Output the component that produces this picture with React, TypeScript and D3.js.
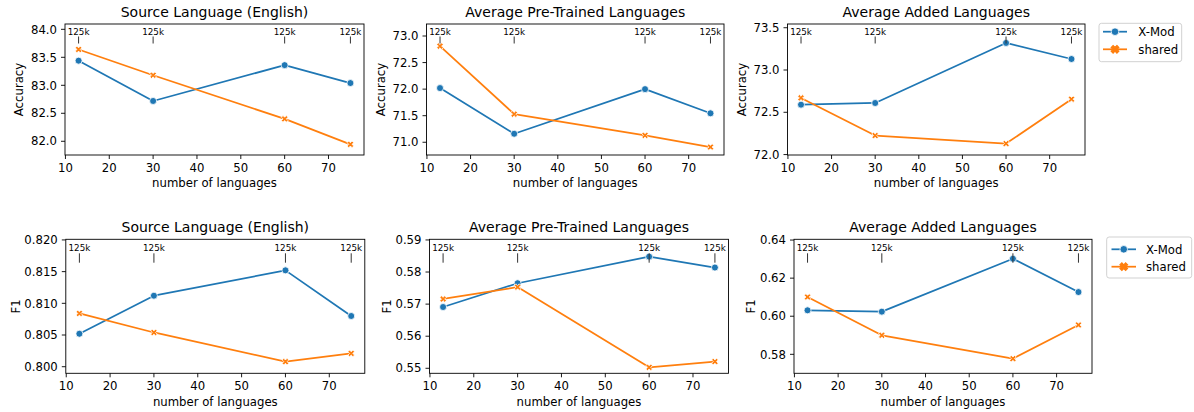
import React from 'react';
import * as d3 from 'd3';

// ---------- data ----------
const nLanguages = [13, 30, 60, 75];
const vocabLabels = ['125k', '125k', '125k', '125k'];
const seriesNames = ['X-Mod', 'shared'];
const xTicks = [10, 20, 30, 40, 50, 60, 70];

const accEnXmod = [83.44, 82.72, 83.36, 83.04];
const accEnShared = [83.64, 83.18, 82.4, 81.945];
const accPreXmod = [72.02, 71.16, 72.0, 71.545];
const accPreShared = [72.81, 71.53, 71.13, 70.91];
const accAddXmod = [72.59, 72.61, 73.32, 73.13];
const accAddShared = [72.67, 72.225, 72.13, 72.655];

const f1EnXmod = [0.8052, 0.8112, 0.8152, 0.808];
const f1EnShared = [0.8084, 0.8054, 0.8008, 0.8021];
const f1PreXmod = [0.5691, 0.5765, 0.5848, 0.5814];
const f1PreShared = [0.5716, 0.5753, 0.5503, 0.5521];
const f1AddXmod = [0.6031, 0.6024, 0.6302, 0.6127];
const f1AddShared = [0.6101, 0.59, 0.5777, 0.5954];

const yTicksAccEn = [82.0, 82.5, 83.0, 83.5, 84.0];
const yTicksAccPre = [71.0, 71.5, 72.0, 72.5, 73.0];
const yTicksAccAdd = [72.0, 72.5, 73.0, 73.5];
const yTicksF1En = [0.8, 0.805, 0.81, 0.815, 0.82];
const yTicksF1Pre = [0.55, 0.56, 0.57, 0.58, 0.59];
const yTicksF1Add = [0.58, 0.6, 0.62, 0.64];

const titles = ['Source Language (English)', 'Average Pre-Trained Languages', 'Average Added Languages'];

// ---------- style ----------
const BLUE = '#1f77b4';
const ORANGE = '#ff7f0e';
const FONT = '"DejaVu Sans", sans-serif';
const FS = 11.7;
const TITLE_FS = 14;
const ANN_FS = 8.75;

type Box = { l: number; r: number; t: number; b: number };
type Panel = {
  title: string;
  ylabel: string;
  xmod: number[];
  shared: number[];
  yTicks: number[];
  dec: number;
  yDomain: [number, number];
  box: Box;
  ann: { text: number; l0: number; l1: number };
};

const topAnn = { text: 8.2, l0: 12.5, l1: 19.5 };
const botAnn = { text: 8.4, l0: 14, l1: 23.4 };

const panels: Panel[] = [
  { title: titles[0], ylabel: 'Accuracy', xmod: accEnXmod, shared: accEnShared, yTicks: yTicksAccEn, dec: 1, yDomain: [81.755, 84.095], box: { l: 65, r: 364, t: 24, b: 155 }, ann: topAnn },
  { title: titles[1], ylabel: 'Accuracy', xmod: accPreXmod, shared: accPreShared, yTicks: yTicksAccPre, dec: 1, yDomain: [70.76, 73.226], box: { l: 426.5, r: 724, t: 24, b: 155 }, ann: topAnn },
  { title: titles[2], ylabel: 'Accuracy', xmod: accAddXmod, shared: accAddShared, yTicks: yTicksAccAdd, dec: 1, yDomain: [71.995, 73.544], box: { l: 787.5, r: 1085, t: 24, b: 155 }, ann: topAnn },
  { title: titles[0], ylabel: 'F1', xmod: f1EnXmod, shared: f1EnShared, yTicks: yTicksF1En, dec: 3, yDomain: [0.79896, 0.8201], box: { l: 65.8, r: 364.8, t: 239.3, b: 373.3 }, ann: botAnn },
  { title: titles[1], ylabel: 'F1', xmod: f1PreXmod, shared: f1PreShared, yTicks: yTicksF1Pre, dec: 2, yDomain: [0.54844, 0.5902], box: { l: 429.5, r: 728.5, t: 239.3, b: 373.3 }, ann: botAnn },
  { title: titles[2], ylabel: 'F1', xmod: f1AddXmod, shared: f1AddShared, yTicks: yTicksF1Add, dec: 2, yDomain: [0.57003, 0.6404], box: { l: 794, r: 1092, t: 239.3, b: 373.3 }, ann: botAnn },
];

const legends = [
  { x: 1099, y: 23.3, w: 82.7, h: 38.4, rows: [31.7, 49.3], lx0: 1103, lx1: 1127, tx: 1138.3 },
  { x: 1106.7, y: 237, w: 85, h: 41, rows: [249.3, 266.7], lx0: 1111.5, lx1: 1136, tx: 1146 },
];

function labelWidth(s: string, fs: number) {
  let w = 0;
  for (const c of s) w += c === '.' ? 0.318 : 0.636;
  return w * fs;
}

function xMarkerPath(cx: number, cy: number, size: number) {
  const pts: [number, number][] = [
    [-1, -3], [1, -3], [1, -1], [3, -1], [3, 1], [1, 1], [1, 3], [-1, 3], [-1, 1], [-3, 1], [-3, -1], [-1, -1],
  ];
  const s = size / 6;
  const c = Math.SQRT1_2;
  const rot = pts.map(([x, y]) => [(x * c - y * c) * s + cx, (x * c + y * c) * s + cy]);
  return 'M' + rot.map((p) => p[0].toFixed(2) + ',' + p[1].toFixed(2)).join('L') + 'Z';
}

function PanelView({ p }: { p: Panel }) {
  const { box } = p;
  const x = d3.scaleLinear().domain([9.9, 78.1]).range([box.l, box.r]);
  const y = d3.scaleLinear().domain(p.yDomain).range([box.b, box.t]);
  const line = d3
    .line<number>()
    .x((_, i) => x(nLanguages[i]))
    .y((d) => y(d));
  const fmt = d3.format('.' + p.dec + 'f');
  const maxW = Math.max(...p.yTicks.map((t) => labelWidth(fmt(t), FS)));
  const ylabX = box.l - 8 - maxW - 4.67 - (p.ylabel === 'F1' ? 0 : 2.8);
  const cx = (box.l + box.r) / 2;
  return (
    <g>
      <text x={cx} y={box.t - 7.5} fontSize={TITLE_FS} textAnchor="middle" fontFamily={FONT} fill="#000">
        {p.title}
      </text>
      {/* lines */}
      <path d={line(p.xmod) || ''} fill="none" stroke={BLUE} strokeWidth={1.75} strokeLinejoin="round" strokeLinecap="round" />
      <path d={line(p.shared) || ''} fill="none" stroke={ORANGE} strokeWidth={1.75} strokeLinejoin="round" strokeLinecap="round" />
      {p.xmod.map((v, i) => (
        <circle key={'b' + i} cx={x(nLanguages[i])} cy={y(v)} r={3.5} fill={BLUE} stroke="#fff" strokeWidth={0.8} />
      ))}
      {p.shared.map((v, i) => (
        <path key={'o' + i} d={xMarkerPath(x(nLanguages[i]), y(v), 7)} fill={ORANGE} stroke="#fff" strokeWidth={0.8} />
      ))}
      {/* annotations */}
      {nLanguages.map((n, i) => (
        <g key={'a' + i}>
          <text x={x(n)} y={box.t + p.ann.text + 3.2} fontSize={ANN_FS} textAnchor="middle" fontFamily={FONT} fill="#000">
            {vocabLabels[i]}
          </text>
          <line x1={x(n)} x2={x(n)} y1={box.t + p.ann.l0} y2={box.t + p.ann.l1} stroke="#333" strokeWidth={1} />
        </g>
      ))}
      {/* spines */}
      <rect x={box.l} y={box.t} width={box.r - box.l} height={box.b - box.t} fill="none" stroke="#000" strokeWidth={0.9} />
      {/* x ticks */}
      {xTicks.map((t) => (
        <g key={'x' + t}>
          <line x1={x(t)} x2={x(t)} y1={box.b} y2={box.b + 4} stroke="#000" strokeWidth={0.9} />
          <text x={x(t)} y={box.b + 8 + 8.6} fontSize={FS} textAnchor="middle" fontFamily={FONT} fill="#000">
            {t}
          </text>
        </g>
      ))}
      {/* y ticks */}
      {p.yTicks.map((t) => (
        <g key={'y' + t}>
          <line x1={box.l - 4} x2={box.l} y1={y(t)} y2={y(t)} stroke="#000" strokeWidth={0.9} />
          <text x={box.l - 8} y={y(t) + 4.2} fontSize={FS} textAnchor="end" fontFamily={FONT} fill="#000">
            {fmt(t)}
          </text>
        </g>
      ))}
      <text x={cx} y={box.b + 32.4} fontSize={FS} textAnchor="middle" fontFamily={FONT} fill="#000">
        number of languages
      </text>
      <text
        transform={`translate(${ylabX},${(box.t + box.b) / 2}) rotate(-90)`}
        fontSize={FS}
        textAnchor="middle"
        fontFamily={FONT}
        fill="#000"
      >
        {p.ylabel}
      </text>
    </g>
  );
}

function Legend({ L }: { L: (typeof legends)[number] }) {
  const colors = [BLUE, ORANGE];
  const mx = (L.lx0 + L.lx1) / 2;
  return (
    <g>
      <rect x={L.x} y={L.y} width={L.w} height={L.h} rx={2.5} fill="#fff" fillOpacity={0.8} stroke="#cccccc" strokeWidth={0.9} />
      {seriesNames.map((name, i) => (
        <g key={name}>
          <line x1={L.lx0} x2={L.lx1} y1={L.rows[i]} y2={L.rows[i]} stroke={colors[i]} strokeWidth={1.75} />
          {i === 0 ? (
            <circle cx={mx} cy={L.rows[i]} r={3.8} fill={BLUE} stroke="#fff" strokeWidth={0.8} />
          ) : (
            <path d={xMarkerPath(mx, L.rows[i], 8)} fill={ORANGE} stroke={ORANGE} strokeWidth={1.2} />
          )}
          <text x={L.tx} y={L.rows[i] + 4.2} fontSize={FS} fontFamily={FONT} fill="#000">
            {name}
          </text>
        </g>
      ))}
    </g>
  );
}

export default function App() {
  return (
    <svg
      width={1194}
      height={412}
      viewBox="0 0 1194 412"
      style={{ position: 'absolute', left: 0, top: 0, background: '#fff' }}
    >
      <rect x={0} y={0} width={1194} height={412} fill="#fff" />
      {panels.map((p, i) => (
        <PanelView key={i} p={p} />
      ))}
      {legends.map((L, i) => (
        <Legend key={i} L={L} />
      ))}
    </svg>
  );
}
